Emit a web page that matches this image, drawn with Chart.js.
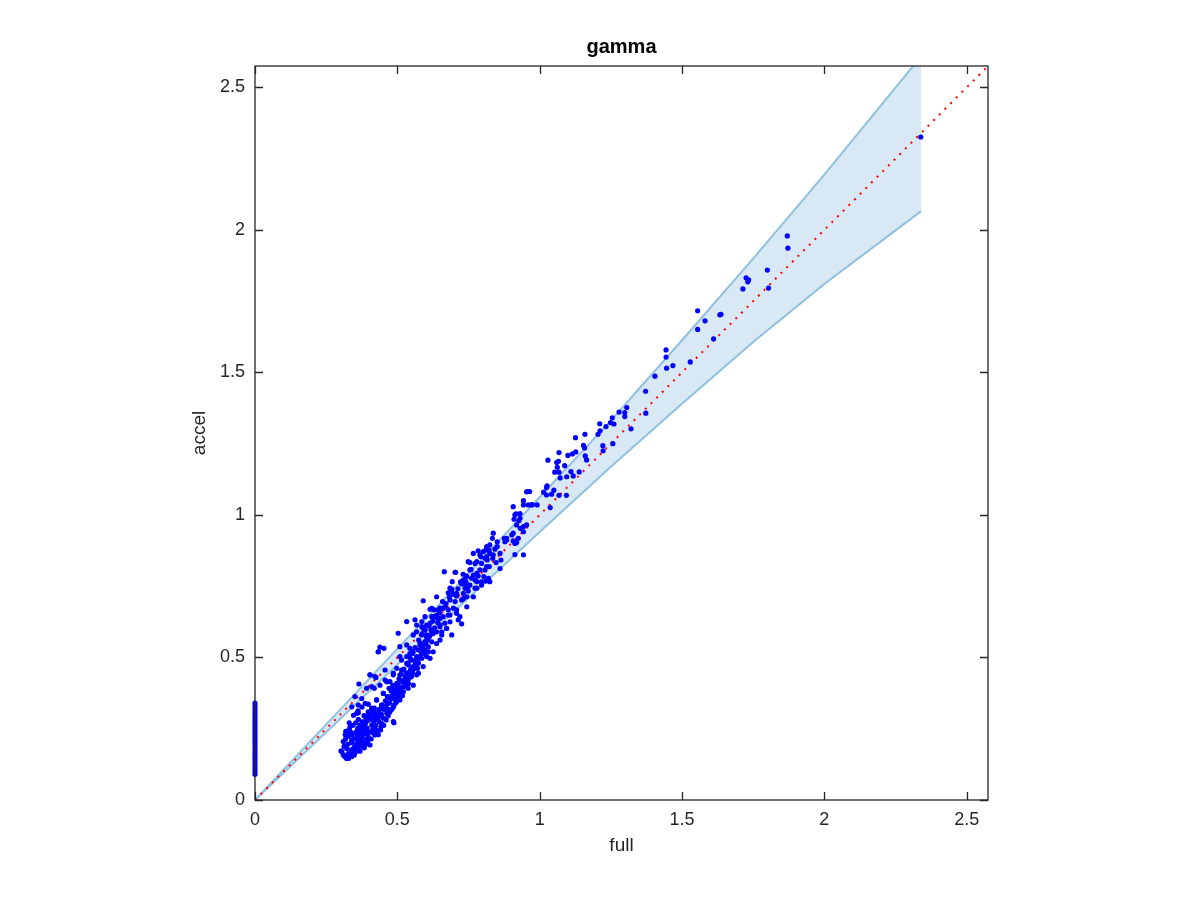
<!DOCTYPE html>
<html>
<head>
<meta charset="utf-8">
<title>gamma</title>
<script src="https://cdn.jsdelivr.net/npm/chart.js@4/dist/chart.umd.min.js"></script>
<style>
  body { margin: 0; background: #fff; }
  canvas { display: block; }
</style>
</head>
<body>
<canvas id="chart_gamma" width="1200" height="900"></canvas>
<script>
const AXIS_MAX = 2.575;
const tickStep = 0.5;

// reference line y = x
const refLine = [0, AXIS_MAX];

// shaded band
const bandX     = [0, 0.32, 0.5, 0.75, 1.0, 1.25, 1.5, 1.75, 2.0, 2.34];
const bandUpper = [0, 0.339, 0.53, 0.795, 1.062, 1.331, 1.613, 1.899, 2.194, 2.609];
const bandLower = [0, 0.304, 0.475, 0.709, 0.94, 1.169, 1.39, 1.607, 1.81, 2.066];

// points sitting on full = 0
const zeroStripAccel = [0.09, 0.10, 0.11, 0.12, 0.13, 0.14, 0.15, 0.16, 0.17, 0.18, 0.19, 0.20,
  0.21, 0.22, 0.23, 0.24, 0.25, 0.26, 0.27, 0.28, 0.29, 0.30, 0.31, 0.32, 0.33, 0.34];

// dense blob, [full, accel]
const clusterLow = [
  [0.302,0.172],[0.310,0.158],[0.322,0.146],[0.328,0.146],[0.316,0.152],[0.334,0.164],[0.305,0.170],
  [0.322,0.181],[0.351,0.187],[0.310,0.205],[0.340,0.211],[0.375,0.216],[0.322,0.233],[0.392,0.233],
  [0.421,0.228],[0.357,0.240],[0.334,0.257],[0.380,0.257],[0.410,0.263],[0.445,0.268],[0.486,0.275],
  [0.392,0.292],[0.427,0.292],[0.357,0.304],[0.463,0.304],[0.404,0.193],[0.488,0.271],
  [0.313,0.188],[0.318,0.214],[0.319,0.241],[0.326,0.196],[0.328,0.224],[0.331,0.248],[0.337,0.176],
  [0.339,0.201],[0.341,0.229],[0.344,0.262],[0.347,0.182],[0.349,0.214],[0.352,0.236],[0.354,0.271],
  [0.356,0.196],[0.359,0.222],[0.361,0.251],[0.363,0.283],[0.366,0.205],[0.368,0.232],[0.369,0.264],
  [0.371,0.189],[0.373,0.246],[0.377,0.274],[0.379,0.229],[0.381,0.203],[0.383,0.296],[0.386,0.241],
  [0.388,0.268],[0.391,0.214],[0.394,0.252],[0.396,0.278],[0.398,0.309],[0.403,0.238],[0.406,0.284],
  [0.408,0.214],[0.411,0.301],[0.414,0.249],[0.417,0.276],[0.419,0.322],[0.423,0.261],[0.426,0.306],
  [0.429,0.243],[0.432,0.281],[0.436,0.318],[0.439,0.296],[0.442,0.257],[0.447,0.333],[0.451,0.287],
  [0.455,0.318],[0.458,0.348],[0.331,0.271],[0.346,0.297],[0.362,0.313],[0.376,0.326],[0.387,0.339],
  [0.327,0.163],[0.343,0.169],[0.358,0.174],[0.317,0.229],[0.336,0.238],[0.365,0.180],
  [0.404,0.439],[0.425,0.430],[0.365,0.407],[0.419,0.392],[0.392,0.392],[0.351,0.363],[0.375,0.356],
  [0.340,0.327],[0.363,0.306],[0.398,0.336],[0.410,0.322],[0.363,0.333],[0.451,0.374],[0.427,0.351],
  [0.445,0.333],[0.486,0.327],
  [0.452,0.262],[0.461,0.281],[0.468,0.296],[0.474,0.309],[0.481,0.318],[0.489,0.334],[0.496,0.342],
  [0.436,0.274],[0.444,0.301],[0.449,0.319],[0.459,0.329],[0.468,0.318],[0.473,0.341],[0.481,0.356],
  [0.416,0.235],[0.424,0.247],[0.433,0.229],[0.441,0.246],[0.398,0.221],[0.389,0.196],[0.378,0.193],
  [0.369,0.171],[0.348,0.157],[0.339,0.152],[0.352,0.167],[0.384,0.183],[0.395,0.205],[0.361,0.212],
  [0.372,0.259],[0.389,0.281],[0.401,0.296],[0.414,0.312],[0.421,0.289],[0.434,0.306]
];

const cloudMid = [
  [0.665,0.801],[0.705,0.799],[0.741,0.786],[0.741,0.766],[0.749,0.754],[0.726,0.758],[0.691,0.740],
  [0.679,0.727],[0.749,0.733],[0.732,0.725],[0.744,0.713],[0.708,0.716],[0.726,0.702],[0.703,0.696],
  [0.685,0.702],[0.591,0.699],[0.659,0.696],[0.667,0.678],[0.650,0.673],[0.629,0.667],[0.615,0.669],
  [0.679,0.667],[0.697,0.673],[0.708,0.655],[0.679,0.649],[0.661,0.643],[0.638,0.649],[0.621,0.643],
  [0.644,0.632],[0.685,0.625],[0.714,0.632],[0.726,0.618],[0.667,0.620],[0.650,0.614],[0.562,0.632],
  [0.568,0.614],[0.586,0.626],[0.603,0.614],[0.591,0.602],[0.533,0.626],[0.568,0.590],[0.586,0.579],
  [0.603,0.579],[0.621,0.584],[0.638,0.590],[0.656,0.590],[0.673,0.602],[0.650,0.561],[0.621,0.555],
  [0.597,0.555],[0.580,0.550],[0.503,0.585],[0.439,0.536],[0.453,0.532],[0.433,0.520],[0.533,0.544],
  [0.544,0.532],[0.556,0.520],[0.574,0.526],[0.591,0.520],[0.609,0.520],[0.615,0.497],[0.603,0.503],
  [0.586,0.497],[0.568,0.503],[0.550,0.491],[0.533,0.503],[0.515,0.491],[0.539,0.474],[0.556,0.468],
  [0.574,0.480],[0.591,0.468],[0.521,0.456],[0.498,0.462],[0.486,0.439],[0.509,0.439],[0.533,0.445],
  [0.550,0.433],[0.568,0.439],[0.521,0.421],[0.539,0.409],[0.503,0.409],[0.457,0.456],[0.404,0.439],
  [0.421,0.433],[0.457,0.421],[0.474,0.415],[0.410,0.398],[0.439,0.403],
  [0.738,0.743],[0.773,0.743],[0.767,0.713],[0.691,0.737],[0.708,0.725],[0.732,0.707],[0.744,0.678],
  [0.638,0.713],[0.667,0.678],[0.644,0.667],[0.621,0.672],[0.708,0.667],[0.685,0.649],[0.720,0.643],
  [0.650,0.637],[0.626,0.643],[0.597,0.643],[0.615,0.620],[0.586,0.608],[0.650,0.608],[0.673,0.602],
  [0.691,0.579],[0.656,0.579],[0.626,0.584],[0.603,0.573],[0.556,0.579],[0.580,0.544],[0.609,0.537],
  [0.638,0.549],[0.626,0.520],[0.597,0.514],[0.544,0.514],[0.433,0.520],[0.509,0.538],[0.509,0.503],
  [0.533,0.479],[0.562,0.474],[0.574,0.445],[0.544,0.450],[0.515,0.456],[0.486,0.445],[0.463,0.415],
  [0.498,0.409],[0.533,0.415],[0.556,0.403],[0.486,0.386],[0.521,0.380],[0.451,0.374],[0.474,0.357],
  [0.509,0.351],[0.427,0.351],[0.445,0.333],[0.486,0.327],[0.471,0.392],[0.495,0.371],[0.515,0.396],
  [0.529,0.432],[0.547,0.458],[0.561,0.489],[0.583,0.531],[0.604,0.561],[0.618,0.598],[0.466,0.338],
  [0.478,0.364],[0.492,0.352],[0.503,0.383],[0.519,0.414],[0.538,0.392],[0.552,0.447],[0.571,0.462],
  [0.502,0.363],[0.507,0.372],[0.512,0.384],[0.518,0.366],[0.524,0.398],[0.529,0.405],[0.536,0.421],
  [0.541,0.427],[0.547,0.436],[0.553,0.452],[0.559,0.461],[0.565,0.473],[0.572,0.492],[0.578,0.501],
  [0.584,0.512],[0.589,0.539],[0.595,0.528],[0.601,0.548],[0.608,0.566],[0.614,0.575],[0.622,0.589],
  [0.631,0.604],[0.642,0.622],[0.487,0.371],[0.493,0.384],[0.499,0.396],[0.465,0.363],[0.478,0.382],
  [0.484,0.402],[0.506,0.425],[0.514,0.441],[0.523,0.459],[0.538,0.481],[0.546,0.497],[0.553,0.514],
  [0.562,0.535],[0.575,0.561],[0.588,0.584],[0.598,0.597],[0.611,0.612],[0.624,0.627],[0.634,0.641],
  [0.648,0.656],[0.659,0.671],[0.671,0.689],[0.683,0.712],[0.696,0.722],[0.713,0.741],[0.722,0.765],
  [0.731,0.792]
];

const cloudUpper = [
  [0.907,1.029],[0.943,1.035],[0.972,1.035],[0.913,1.000],[0.931,0.988],[0.919,0.965],[0.943,0.959],
  [0.907,0.936],[0.837,0.936],[0.884,0.918],[0.925,0.918],[0.878,0.906],[0.913,0.900],[0.943,0.860],
  [0.814,0.889],[0.861,0.865],[0.790,0.860],[0.767,0.865],[0.808,0.848],[0.773,0.830],[0.749,0.836],
  [0.861,0.812],[0.814,0.819],[0.790,0.807],[0.755,0.807],[0.820,0.778],[0.767,0.789],[0.779,0.766],
  [0.755,0.754],[0.796,0.754],[0.917,1.004],[0.931,1.005],[0.910,0.985],[0.927,0.980],[0.954,0.965],
  [0.932,0.953],[0.943,0.941],[0.902,0.930],[0.907,0.909],[0.919,0.903],[0.884,0.912],[0.876,0.918],
  [0.834,0.918],[0.851,0.906],[0.851,0.889],[0.843,0.880],[0.825,0.895],[0.822,0.877],[0.811,0.877],
  [0.802,0.871],[0.825,0.865],[0.837,0.860],[0.814,0.854],[0.835,0.848],[0.816,0.842],[0.847,0.833],
  [0.864,0.842],[0.784,0.874],[0.793,0.854],[0.779,0.836],[0.796,0.830],[0.755,0.833],[0.759,0.809],
  [0.808,0.807],[0.823,0.819],[0.779,0.795],[0.804,0.784],[0.811,0.768],[0.784,0.786],[0.773,0.772],
  [0.761,0.778],[0.796,0.766],[0.825,0.766],[0.744,0.784],[0.738,0.760],[0.732,0.772],[0.749,0.748],
  [0.703,0.799],[0.693,0.766],[0.685,0.743],[0.779,0.743],[0.913,0.861],
  [0.957,1.082],[0.965,1.082],[0.954,1.081],[0.943,1.050],[0.960,1.035],[0.974,1.036],[0.991,1.035],
  [1.037,1.026],[1.026,1.102],[1.024,1.096],[1.014,1.080],[1.024,1.070],[1.050,1.087],[1.042,1.073],
  [1.068,1.069],[1.094,1.069],[1.029,1.192],[1.060,1.184],[1.066,1.188],[1.062,1.167],[1.088,1.173],
  [1.053,1.150],[1.068,1.150],[1.072,1.130],[1.110,1.152],[1.118,1.137],[1.139,1.151],[1.095,1.134],
  [1.126,1.271],[1.154,1.244],[1.158,1.235],[1.127,1.221],[1.115,1.214],[1.099,1.209],[1.068,1.219],
  [1.160,1.207],[1.165,1.193],[1.222,1.243],[1.223,1.225],[1.257,1.250]
];

const sparseTop = [
  [2.339,2.326],[1.870,1.979],[1.872,1.936],[1.800,1.859],[1.725,1.832],[1.734,1.825],[1.731,1.818],
  [1.714,1.793],[1.804,1.796],[1.555,1.716],[1.581,1.681],[1.555,1.651],[1.633,1.702],[1.637,1.704],
  [1.611,1.618],[1.444,1.579],[1.444,1.554],[1.446,1.515],[1.468,1.524],[1.529,1.537],[1.405,1.487],
  [1.372,1.434],[1.373,1.357],[1.306,1.377],[1.279,1.361],[1.299,1.359],[1.299,1.345],[1.255,1.341],
  [1.249,1.324],[1.261,1.319],[1.211,1.320],[1.233,1.310],[1.212,1.295],[1.205,1.283],[1.159,1.283],
  [1.321,1.302]
];

const FONT = "'Liberation Sans', Arial, Helvetica, sans-serif";
const INK = '#262626';
const BAND_LINE = '#8fc0df';
const BAND_FILL = '#d8e8f4';

const toXY = p => ({ x: p[0], y: p[1] });
const scatterData = [
  ...zeroStripAccel.map(a => ({ x: 0, y: a })),
  ...clusterLow.map(toXY),
  ...cloudMid.map(toXY),
  ...cloudUpper.map(toXY),
  ...sparseTop.map(toXY)
];
const upperPts = bandX.map((x, i) => ({ x: x, y: bandUpper[i] }));
const lowerPts = bandX.map((x, i) => ({ x: x, y: bandLower[i] }));

// MATLAB style box, inward ticks and bold title
const boxPlugin = {
  id: 'boxPlugin',
  afterDraw(chart) {
    const ctx = chart.ctx;
    const a = chart.chartArea;
    const xs = chart.scales.x, ys = chart.scales.y;
    const len = 8;
    ctx.save();
    ctx.strokeStyle = INK;
    ctx.lineWidth = 1.3;
    ctx.strokeRect(a.left, a.top, a.right - a.left, a.bottom - a.top);
    ctx.beginPath();
    xs.ticks.forEach(t => {
      const px = Math.round(xs.getPixelForValue(t.value)) + 0.5;
      ctx.moveTo(px, a.bottom); ctx.lineTo(px, a.bottom - len);
      ctx.moveTo(px, a.top); ctx.lineTo(px, a.top + len);
    });
    ys.ticks.forEach(t => {
      const py = Math.round(ys.getPixelForValue(t.value)) + 0.5;
      ctx.moveTo(a.left, py); ctx.lineTo(a.left + len, py);
      ctx.moveTo(a.right, py); ctx.lineTo(a.right - len, py);
    });
    ctx.stroke();
    ctx.fillStyle = '#000';
    ctx.font = 'bold 20px ' + FONT;
    ctx.textAlign = 'center';
    ctx.textBaseline = 'middle';
    ctx.fillText('gamma', (a.left + a.right) / 2, 47);
    ctx.restore();
  }
};

const fmt = v => String(+(+v).toFixed(2));

new Chart(document.getElementById('chart_gamma'), {
  data: {
    datasets: [
      {
        type: 'scatter',
        label: 'pontos',
        data: scatterData,
        pointRadius: 2.6,
        pointBorderWidth: 0,
        pointBackgroundColor: '#0000ff',
        clip: false,
        order: 0
      },
      {
        type: 'line',
        label: 'y = x',
        data: refLine.map(v => ({ x: v, y: v })),
        borderColor: '#ff0000',
        borderWidth: 2,
        borderDash: [2, 6],
        pointRadius: 0,
        fill: false,
        order: 1
      },
      {
        type: 'line',
        label: 'upper',
        data: upperPts,
        borderColor: BAND_LINE,
        borderWidth: 2,
        pointRadius: 0,
        tension: 0,
        fill: false,
        order: 2
      },
      {
        type: 'line',
        label: 'lower',
        data: lowerPts,
        borderColor: BAND_LINE,
        borderWidth: 2,
        pointRadius: 0,
        tension: 0,
        fill: false,
        clip: 0,
        order: 3
      },
      {
        type: 'line',
        label: 'band',
        data: upperPts,
        borderWidth: 0,
        backgroundColor: BAND_FILL,
        pointRadius: 0,
        tension: 0,
        fill: '+1',
        order: 4
      },
      {
        type: 'line',
        label: 'band lower',
        data: lowerPts,
        borderWidth: 0,
        pointRadius: 0,
        tension: 0,
        fill: false,
        order: 5
      }
    ]
  },
  options: {
    responsive: false,
    animation: false,
    layout: { padding: { top: 66, right: 212, bottom: 0, left: 0 } },
    plugins: {
      legend: { display: false },
      tooltip: { enabled: false },
      title: { display: false }
    },
    scales: {
      x: {
        type: 'linear',
        position: 'bottom',
        min: 0,
        max: AXIS_MAX,
        grid: { display: false, drawTicks: false },
        border: { display: false },
        ticks: {
          stepSize: tickStep,
          includeBounds: false,
          padding: 9,
          maxRotation: 0,
          color: INK,
          font: { family: FONT, size: 18 },
          callback: fmt
        },
        title: {
          display: true,
          text: 'full',
          color: INK,
          font: { family: FONT, size: 19 },
          padding: { top: 0, bottom: 43 }
        },
        afterFit(s) { s.height = 100; }
      },
      y: {
        type: 'linear',
        min: 0,
        max: AXIS_MAX,
        grid: { display: false, drawTicks: false },
        border: { display: false },
        ticks: {
          stepSize: tickStep,
          includeBounds: false,
          padding: 10,
          color: INK,
          font: { family: FONT, size: 18 },
          callback: fmt
        },
        title: {
          display: true,
          text: 'accel',
          color: INK,
          font: { family: FONT, size: 19 },
          padding: { top: 188, bottom: 0 }
        },
        afterFit(s) { s.width = 255; }
      }
    }
  },
  plugins: [boxPlugin]
});
</script>
</body>
</html>
